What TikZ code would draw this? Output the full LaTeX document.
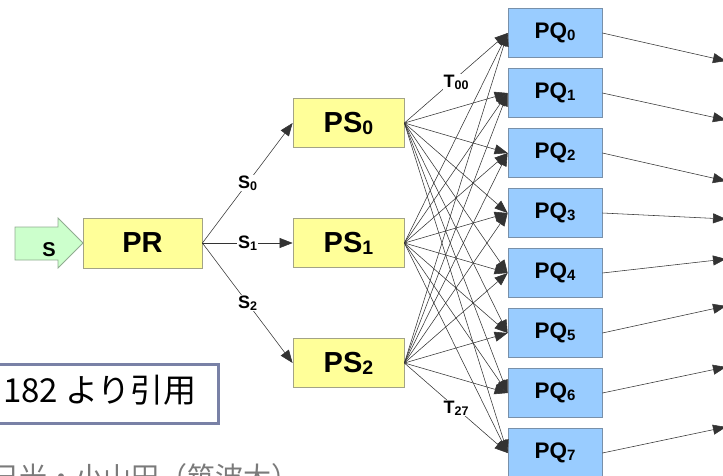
\documentclass[tikz,border=0pt]{standalone}
\usepackage{fontspec}
\setmainfont{Liberation Sans}
\newfontfamily\jpfont{Noto Sans CJK JP}
\usetikzlibrary{arrows.meta}

\definecolor{ylwfill}{HTML}{FFFF99}
\definecolor{ylwline}{HTML}{A3A386}
\definecolor{bluefill}{HTML}{99CCFF}
\definecolor{blueline}{HTML}{7890AA}
\definecolor{grnfill}{HTML}{CCFFCC}
\definecolor{grnline}{HTML}{90AC90}
\definecolor{citeline}{HTML}{7981A6}
\definecolor{notegray}{HTML}{7A7A7A}

% lowered subscript in a given size
\newcommand\subd[2]{\raisebox{-2pt}{\fontsize{#1}{#1}\selectfont #2}}

\begin{document}
\begin{tikzpicture}[x=1pt,y=-1pt,
  box/.style={draw, line width=0.8pt, inner sep=0pt},
  stagebox/.style={box, fill=ylwfill, draw=ylwline, minimum width=111pt, minimum height=49pt,
    font=\bfseries\fontsize{29}{29}\selectfont},
  queuebox/.style={box, fill=bluefill, draw=blueline, minimum width=94pt, minimum height=48.5pt,
    font=\bfseries\fontsize{22.5}{22.5}\selectfont},
  link/.style={draw=black!80, line width=0.55pt, -{Triangle[length=13pt,width=10pt]}},
  tag/.style={fill=white, inner sep=1pt, font=\bfseries\fontsize{18}{18}\selectfont},
]
\useasboundingbox (0,0) rectangle (723,475);

% input arrow
\draw[fill=grnfill, draw=grnline, line width=0.8pt]
  (15,227) -- (58,227) -- (58,218) -- (83,243) -- (58,268) -- (58,260) -- (15,260) -- cycle;
\node[font=\bfseries\fontsize{20}{20}\selectfont, inner sep=0pt] (sin) at (49,250) {S};

% root and split stages
\node[stagebox, minimum width=119pt, minimum height=50pt] (pr) at (142.5,243) {PR};
\node[stagebox] (ps0) at (348.5,123) {PS\subd{19.5}{0}};
\node[stagebox] (ps1) at (348.5,243) {PS\subd{19.5}{1}};
\node[stagebox] (ps2) at (348.5,363) {PS\subd{19.5}{2}};

% queues
\foreach \j in {0,...,7}
  \node[queuebox] (pq\j) at (555,33+60*\j) {PQ\subd{15}{\j}};

% free ends of the outgoing arrows
\coordinate (o0) at (726,61);
\coordinate (o1) at (726,120);
\coordinate (o2) at (726,181);
\coordinate (o3) at (726,219);
\coordinate (o4) at (726,259);
\coordinate (o5) at (726,306);
\coordinate (o6) at (726,367);
\coordinate (o7) at (726,427);

% PR to stages
\draw[link] (pr.east) -- node[tag] {S\subd{12.5}{0}} (ps0.west);
\draw[link] (pr.east) -- node[tag] {S\subd{12.5}{1}} (ps1.west);
\draw[link] (pr.east) -- node[tag] {S\subd{12.5}{2}} (ps2.west);

% every stage to every queue
\foreach \i in {0,1,2}
  \foreach \j in {0,...,7}
    \draw[link] (ps\i.east) -- (pq\j.west);

\path (ps0.east) -- node[tag, yshift=-4pt] {T\subd{12.5}{00}} (pq0.west);
\path (ps2.east) -- node[tag] {T\subd{12.5}{27}} (pq7.west);

% queue outputs
\foreach \j in {0,...,7}
  \draw[link] (pq\j.east) -- (o\j);

% citation note
\node[draw=citeline, line width=3pt, minimum width=240pt, minimum height=59pt, inner sep=0pt,
  anchor=east] (cite) at (220,394) {};
\node[anchor=base west, inner sep=0pt, font=\jpfont\fontsize{33}{33}\selectfont] (citetxt)
  at (3,402) {182 より引用};

% author line
\node[anchor=base west, inner sep=0pt, text=notegray, font=\jpfont\fontsize{28}{28}\selectfont] (authors)
  at (-9,487) {日光・小山田（筑波大）};
\end{tikzpicture}
\end{document}
